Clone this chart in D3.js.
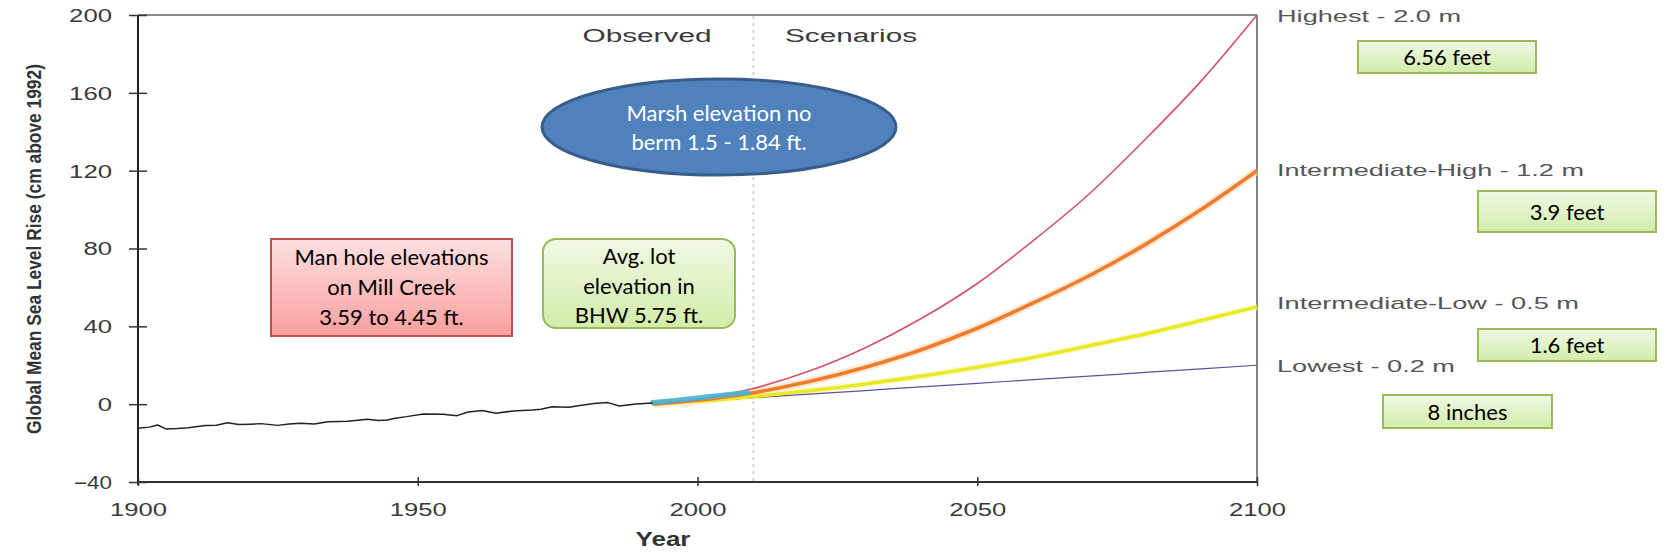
<!DOCTYPE html>
<html>
<head>
<meta charset="utf-8">
<script src="https://cdn.jsdelivr.net/npm/d3@7"></script>
<style>
  html, body { margin: 0; padding: 0; background: #ffffff; }
  svg { display: block; }
</style>
</head>
<body>
<svg id="chart" width="1670" height="557"></svg>
<script>
// ---------------- DATA ----------------
const xTicks = [1900, 1950, 2000, 2050, 2100];
const yTicks = [-40, 0, 40, 80, 120, 160, 200];

// Observed global mean sea level (cm above 1992)
const obsYears  = [1900, 1902, 1903.5, 1905, 1907, 1909, 1912, 1914, 1916, 1918, 1920, 1922, 1925, 1927, 1929, 1931.5, 1934, 1937.5, 1941, 1943, 1944.5, 1946, 1948, 1951, 1954.5, 1957, 1959, 1961.5, 1964, 1967, 1970.5, 1972, 1974, 1977, 1979, 1981.5, 1984, 1986, 1989, 1992];
const obsValues = [-12.4, -11.8, -10.7, -12.7, -12.5, -12.1, -11.0, -10.8, -9.5, -10.5, -10.3, -10.0, -10.9, -10.2, -9.8, -10.2, -9.0, -8.8, -7.8, -8.4, -8.1, -7.2, -6.4, -5.0, -5.2, -5.9, -4.0, -3.3, -4.7, -3.5, -3.0, -2.6, -1.3, -1.6, -0.7, 0.4, 0.8, -0.9, 0.1, 0.6];

// Satellite-era observed segment (cyan)
const satYears  = [1992, 1996, 2000, 2004, 2009];
const satValues = [0.8, 1.9, 3.2, 4.5, 6.0];

// Scenario projections (cm above 1992)
const scenYears    = [1992, 2000, 2010, 2020, 2030, 2040, 2050, 2060, 2070, 2080, 2090, 2100];
const highestVals  = [0, 2.4, 8.1, 17, 29, 44, 62, 84, 108, 136, 166, 200];
const intHighVals  = [0, 2.0, 5.9, 11.6, 19, 28, 39, 52, 66, 82, 100, 120];
const intLowVals   = [0, 1.5, 4.0, 6.9, 10.4, 14.4, 19, 24, 30, 36, 43, 50];
const lowestVals   = [0, 1.5, 3.3, 5.2, 7.0, 8.9, 10.7, 12.6, 14.4, 16.3, 18.1, 20];

const scenarioNames = ["Highest - 2.0 m", "Intermediate-High - 1.2 m", "Intermediate-Low - 0.5 m", "Lowest - 0.2 m"];
const scenarioFeet  = ["6.56 feet", "3.9 feet", "1.6 feet", "8 inches"];
const periodLabels  = ["Observed", "Scenarios"];
const dividerYear   = 2010;

const redNote   = ["Man hole elevations", "on Mill Creek", "3.59 to 4.45 ft."];
const greenNote = ["Avg. lot", "elevation in", "BHW 5.75 ft."];
const blueNote  = ["Marsh elevation no", "berm 1.5 - 1.84 ft."];

// ---------------- LAYOUT ----------------
const svg = d3.select("#chart");
const L = 138, R = 1257, T = 15, B = 482;
const x = d3.scaleLinear().domain([1900, 2100]).range([L, R]);
const y = d3.scaleLinear().domain([-40, 200]).range([B, T]);

const AX_FONT = "'Liberation Sans', Arial, Helvetica, sans-serif";
const NARROW_FONT = "'Liberation Sans Narrow', 'Arial Narrow', 'Liberation Sans', Arial, sans-serif";
const NOTE_FONT = "Lato, 'Open Sans', 'Noto Sans', sans-serif";
const NOTE_SIZE = 22;

function fit(sel, w) { sel.attr("textLength", w).attr("lengthAdjust", "spacingAndGlyphs"); }

// gradients
const defs = svg.append("defs");
function grad(id, c1, c2) {
  const g = defs.append("linearGradient").attr("id", id).attr("x1", 0).attr("y1", 0).attr("x2", 0).attr("y2", 1);
  g.append("stop").attr("offset", "0%").attr("stop-color", c1);
  g.append("stop").attr("offset", "100%").attr("stop-color", c2);
}
grad("gRed", "#fde0e0", "#f7a09e");
grad("gGreen", "#f0f9e4", "#d2ecaa");

// divider line (dotted)
svg.append("line")
  .attr("x1", x(dividerYear)).attr("x2", x(dividerYear))
  .attr("y1", T + 1).attr("y2", B)
  .attr("stroke", "#d4d4d4").attr("stroke-width", 2).attr("stroke-dasharray", "3,4");

// frame
svg.append("line").attr("x1", L).attr("x2", R).attr("y1", T).attr("y2", T).attr("stroke", "#666").attr("stroke-width", 1.6);
svg.append("line").attr("x1", R).attr("x2", R).attr("y1", T).attr("y2", B).attr("stroke", "#666").attr("stroke-width", 1.6);
svg.append("line").attr("x1", L).attr("x2", R).attr("y1", B).attr("y2", B).attr("stroke", "#333").attr("stroke-width", 1.8);
svg.append("line").attr("x1", L).attr("x2", L).attr("y1", T).attr("y2", B + 3).attr("stroke", "#222").attr("stroke-width", 2);

// y axis
const yAxisG = svg.append("g").attr("transform", `translate(${L},0)`)
  .call(d3.axisLeft(y).tickValues(yTicks).tickSize(9).tickPadding(17).tickFormat(d3.format("d")));
yAxisG.select(".domain").remove();
yAxisG.selectAll(".tick line").attr("x1", 9).attr("x2", -9).attr("stroke", "#333").attr("stroke-width", 1.5);
yAxisG.selectAll(".tick text")
  .attr("font-family", AX_FONT).attr("font-size", 18).attr("fill", "#3a3a3a")
  .attr("dy", "0.36em")
  .each(function (d) {
    const s = String(d);
    const w = s === "-40" ? 38 : s.length * 14.3;
    fit(d3.select(this), w);
  });

// x axis
const xAxisG = svg.append("g").attr("transform", `translate(0,${B})`)
  .call(d3.axisBottom(x).tickValues(xTicks).tickSize(4).tickFormat(d3.format("d")));
xAxisG.select(".domain").remove();
xAxisG.selectAll(".tick line").attr("y1", -5).attr("y2", 4).attr("stroke", "#333").attr("stroke-width", 1.5);
xAxisG.selectAll(".tick text")
  .attr("font-family", AX_FONT).attr("font-size", 18).attr("fill", "#3a3a3a")
  .attr("y", 34).attr("dy", 0)
  .each(function () { fit(d3.select(this), 57); });

// axis titles
const yt = svg.append("text")
  .attr("transform", `translate(41,249) rotate(-90)`)
  .attr("text-anchor", "middle")
  .attr("font-family", NARROW_FONT).attr("font-weight", "bold").attr("font-size", 20).attr("fill", "#333")
  .text("Global Mean Sea Level Rise (cm above 1992)");
fit(yt, 370);
const xt = svg.append("text")
  .attr("x", 663).attr("y", 546).attr("text-anchor", "middle")
  .attr("font-family", AX_FONT).attr("font-weight", "bold").attr("font-size", 20).attr("fill", "#333")
  .text("Year");
fit(xt, 55);

// period labels
const pl = [[647, 129], [851, 132]];
periodLabels.forEach((t, i) => {
  const s = svg.append("text").attr("x", pl[i][0]).attr("y", 41.5).attr("text-anchor", "middle")
    .attr("font-family", AX_FONT).attr("font-size", 18).attr("fill", "#3a3a3a").text(t);
  fit(s, pl[i][1]);
});

// ---------------- LINES ----------------
const line = d3.line().x(d => x(d[0])).y(d => y(d[1]));
const smooth = d3.line().x(d => x(d[0])).y(d => y(d[1])).curve(d3.curveMonotoneX);
const zip = (a, b) => a.map((v, i) => [v, b[i]]);

// soft halos
svg.append("path").datum(zip(scenYears, intHighVals)).attr("d", smooth)
  .attr("fill", "none").attr("stroke", "#fbd9b8").attr("stroke-width", 8).attr("opacity", 0.6);
svg.append("path").datum(zip(scenYears, intLowVals)).attr("d", smooth)
  .attr("fill", "none").attr("stroke", "#f7f6b8").attr("stroke-width", 7).attr("opacity", 0.6);

svg.append("path").datum(zip(scenYears, lowestVals)).attr("d", smooth)
  .attr("fill", "none").attr("stroke", "#55559a").attr("stroke-width", 1.2);
svg.append("path").datum(zip(scenYears, intLowVals)).attr("d", smooth)
  .attr("fill", "none").attr("stroke", "#e9e928").attr("stroke-width", 3.6);
svg.append("path").datum(zip(scenYears, intHighVals)).attr("d", smooth)
  .attr("fill", "none").attr("stroke", "#ef7b2c").attr("stroke-width", 3.6);
svg.append("path").datum(zip(scenYears, highestVals)).attr("d", smooth)
  .attr("fill", "none").attr("stroke", "#d5506a").attr("stroke-width", 1.6);

// satellite-era cyan segment
svg.append("path").datum(zip(satYears, satValues)).attr("d", smooth)
  .attr("fill", "none").attr("stroke", "#48b4d6").attr("stroke-width", 5).attr("stroke-linecap", "round").attr("opacity", 0.9);

// observed
svg.append("path").datum(zip(obsYears, obsValues)).attr("d", line)
  .attr("fill", "none").attr("stroke", "#222").attr("stroke-width", 1.5).attr("stroke-linejoin", "round");

// ---------------- RIGHT LABELS ----------------
const rl = [[21.5, 184], [176, 307], [309, 302], [372, 178]];
scenarioNames.forEach((t, i) => {
  const s = svg.append("text").attr("x", 1277).attr("y", rl[i][0])
    .attr("font-family", AX_FONT).attr("font-size", 17).attr("fill", "#555").text(t);
  fit(s, rl[i][1]);
});

// green boxes with feet
const fb = [[1358, 41, 178, 32], [1478, 191, 178, 41], [1478, 329, 178, 32], [1383, 395, 169, 33]];
scenarioFeet.forEach((t, i) => {
  const [bx, by, bw, bh] = fb[i];
  svg.append("rect").attr("x", bx).attr("y", by).attr("width", bw).attr("height", bh)
    .attr("fill", "url(#gGreen)").attr("stroke", "#9bbb59").attr("stroke-width", 2);
  svg.append("text").attr("x", bx + bw / 2).attr("y", by + bh / 2 + 8).attr("text-anchor", "middle")
    .attr("font-family", NOTE_FONT).attr("font-size", NOTE_SIZE).attr("fill", "#000").text(t);
});

// ---------------- NOTES ----------------
// red box
svg.append("rect").attr("x", 271).attr("y", 239).attr("width", 241).attr("height", 97)
  .attr("fill", "url(#gRed)").attr("stroke", "#c0504d").attr("stroke-width", 2);
redNote.forEach((t, i) => {
  svg.append("text").attr("x", 391.5).attr("y", 265 + i * 30).attr("text-anchor", "middle")
    .attr("font-family", NOTE_FONT).attr("font-size", NOTE_SIZE).attr("fill", "#000").text(t);
});

// green rounded box
svg.append("rect").attr("x", 543).attr("y", 239).attr("width", 192).attr("height", 89).attr("rx", 13)
  .attr("fill", "url(#gGreen)").attr("stroke", "#9bbb59").attr("stroke-width", 2);
greenNote.forEach((t, i) => {
  svg.append("text").attr("x", 639).attr("y", 264 + i * 29.5).attr("text-anchor", "middle")
    .attr("font-family", NOTE_FONT).attr("font-size", NOTE_SIZE).attr("fill", "#000").text(t);
});

// blue ellipse
svg.append("ellipse").attr("cx", 719).attr("cy", 127).attr("rx", 177).attr("ry", 48)
  .attr("fill", "#4f81bd").attr("stroke", "#385d8a").attr("stroke-width", 3);
blueNote.forEach((t, i) => {
  svg.append("text").attr("x", 719).attr("y", 121 + i * 29).attr("text-anchor", "middle")
    .attr("font-family", NOTE_FONT).attr("font-size", NOTE_SIZE).attr("fill", "#fff").text(t);
});
</script>
</body>
</html>
